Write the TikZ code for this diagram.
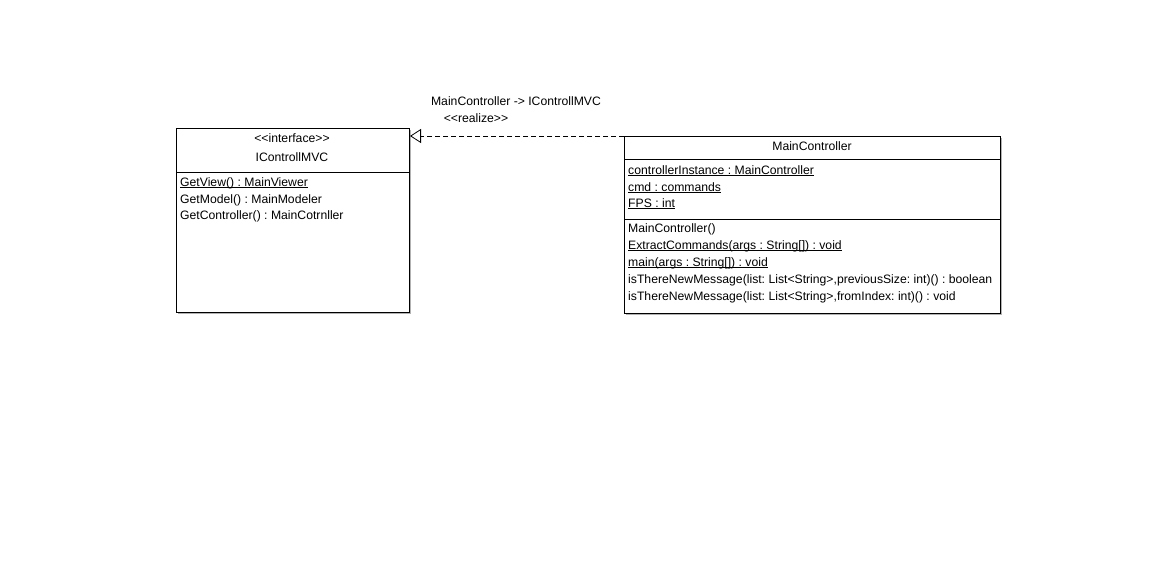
\documentclass[tikz,border=0pt]{standalone}
\usepackage{fontspec}
\setmainfont{Liberation Sans}
\usetikzlibrary{arrows.meta}
\frenchspacing

\tikzset{
  classbox/.style={draw=black, line width=1pt, fill=white, inner sep=0pt, anchor=north west},
  shadowbox/.style={fill=black!30, draw=none},
  member/.style={inner sep=0pt, anchor=west},
  title/.style={inner sep=0pt, anchor=center},
  divider/.style={line width=1pt},
  realize/.style={line width=0.8pt, dash pattern=on 5pt off 3pt, -{Triangle[open, length=11pt, width=14pt, line width=0.8pt]}},
}
\newcommand{\lt}{{<}\kern0pt{<}}
\newcommand{\gt}{{>}\kern0pt{>}}
% static members: thin underline just below the baseline
\newlength{\stwidth}
\newcommand{\static}[1]{\settowidth{\stwidth}{#1}\rlap{\rule[-1.6pt]{\stwidth}{0.8pt}}#1}

\begin{document}
\begin{tikzpicture}[x=1pt, y=-1pt, font=\fontsize{12.2}{14}\selectfont]
\useasboundingbox[fill=white] (0,0) rectangle (1176,573);

% interface IControllMVC
\fill[shadowbox] (178,130) rectangle (411,314);
\node[classbox, minimum width=233pt, minimum height=184pt] (ic) at (176,128) {};
\node[title] (icstereo) at (292,138) {\lt interface\gt};
\node[title] (icname) at (292,157) {IControllMVC};
\draw[divider] (176,172) coordinate (icdiv) -- (icdiv -| ic.east);
\node[member] (ic1) at (180,183) {\static{GetView() : MainViewer}};
\node[member] (ic2) at (180,200) {GetModel() : MainModeler};
\node[member] (ic3) at (180,216) {GetController() : MainCotrnller};

% class MainController
\fill[shadowbox] (626,138) rectangle (1002,315);
\node[classbox, minimum width=376pt, minimum height=177pt] (mc) at (624,136) {};
\node[title] (mcname) at (812,146) {MainController};
\draw[divider] (624,159) coordinate (mcdiv1) -- (mcdiv1 -| mc.east);
\node[member] (mca1) at (628,171) {\static{controllerInstance : MainController}};
\node[member] (mca2) at (628,188) {\static{cmd : commands}};
\node[member] (mca3) at (628,204) {\static{FPS : int}};
\draw[divider] (624,219) coordinate (mcdiv2) -- (mcdiv2 -| mc.east);
\node[member] (mco1) at (628,229) {MainController()};
\node[member] (mco2) at (628,246) {\static{ExtractCommands(args : String[]) : void}};
\node[member] (mco3) at (628,263) {\static{main(args : String[]) : void}};
\node[member] (mco4) at (628,280) {isThereNewMessage(list: List<String>,previousSize: int)() : boolean};
\node[member] (mco5) at (628,297) {isThereNewMessage(list: List<String>,fromIndex: int)() : void};

% realization MainController -> IControllMVC
\draw[realize] (mc.north west) -- (mc.north west -| ic.east);
\node[title] (relname) at (516,101) {MainController -> IControllMVC};
\node[title] (relstereo) at (476,118) {\lt realize\gt};

\end{tikzpicture}
\end{document}
